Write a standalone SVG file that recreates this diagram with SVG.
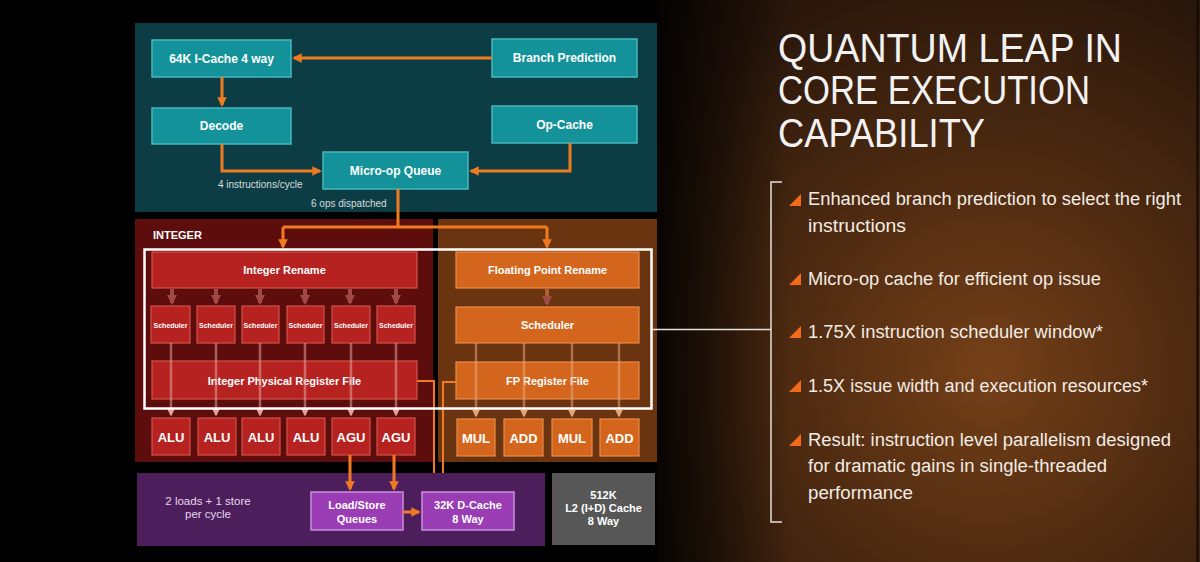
<svg xmlns="http://www.w3.org/2000/svg" width="1200" height="562" viewBox="0 0 1200 562">
<defs>
<radialGradient id="glow" gradientUnits="userSpaceOnUse" cx="990" cy="370" r="620">
<stop offset="0" stop-color="#754018"/>
<stop offset="0.3" stop-color="#512c11"/>
<stop offset="0.65" stop-color="#2a170b"/>
<stop offset="1" stop-color="#0e0805"/>
</radialGradient>
<linearGradient id="fade" gradientUnits="userSpaceOnUse" x1="655" y1="0" x2="790" y2="0">
<stop offset="0" stop-color="#000" stop-opacity="0.85"/>
<stop offset="1" stop-color="#000" stop-opacity="0"/>
</linearGradient>
<marker id="ah" viewBox="0 0 10 10" refX="8" refY="5" markerWidth="3.2" markerHeight="3.2" orient="auto" markerUnits="strokeWidth">
<path d="M0,0 L10,5 L0,10 z" fill="#f07a22"/>
</marker>
<marker id="ahg" viewBox="0 0 10 10" refX="8" refY="5" markerWidth="2.6" markerHeight="2.6" orient="auto" markerUnits="strokeWidth">
<path d="M0,0 L10,5 L0,10 z" fill="#a04a48"/>
</marker>
<marker id="ahl" viewBox="0 0 10 10" refX="8" refY="5" markerWidth="3" markerHeight="3" orient="auto" markerUnits="strokeWidth">
<path d="M0,0 L10,5 L0,10 z" fill="#e3a09c"/>
</marker>
<marker id="ahf" viewBox="0 0 10 10" refX="8" refY="5" markerWidth="3" markerHeight="3" orient="auto" markerUnits="strokeWidth">
<path d="M0,0 L10,5 L0,10 z" fill="#e6a57a"/>
</marker>
<style>
.lbl{font-family:"Liberation Sans",Arial,sans-serif;font-weight:bold;fill:#ffffff;text-anchor:middle;dominant-baseline:central}
.t12{font-size:12px}
.t11{font-size:11px}
.t13{font-size:13px}
.t7{font-size:7px}
.note{font-family:"Liberation Sans",Arial,sans-serif;font-size:10px;fill:#d6dede}
.teal{fill:#13929a;stroke:#46b7bd;stroke-width:1.5}
.red{fill:#b62220;stroke:#d4524c;stroke-width:1.2}
.fp{fill:#d3661c;stroke:#eb8b4a;stroke-width:1.2}
.pur{fill:#9a3cb3;stroke:#cb8ddb;stroke-width:1.5}
.oc{fill:none;stroke:#f07a22;stroke-width:3}
.oct{fill:none;stroke:#f07a22;stroke-width:2}
.gc{fill:none;stroke:#a04a48;stroke-width:4}
.lc{fill:none;stroke:#e3a09c;stroke-opacity:0.55;stroke-width:2.5}
.fc{fill:none;stroke:#e6a57a;stroke-opacity:0.55;stroke-width:2.5}
.title{font-family:"Liberation Sans",Arial,sans-serif;font-size:40px;fill:#f2f2f2}
.bul{font-family:"Liberation Sans",Arial,sans-serif;font-size:18px;fill:#f2ece6}
.tri{fill:#f26a1b}
</style>
</defs>

<!-- background -->
<rect x="0" y="0" width="1200" height="562" fill="url(#glow)"/>
<rect x="655" y="0" width="140" height="562" fill="url(#fade)"/>
<rect x="0" y="0" width="657" height="562" fill="#000"/>
<line x1="1197.5" y1="0" x2="1197.5" y2="562" stroke="#120a05" stroke-width="2"/>

<!-- panels -->
<g id="frontend-panel"><rect x="135" y="23" width="522" height="189" fill="#0d3d44"/></g>
<g id="integer-panel">
<rect x="135" y="219" width="298" height="243" fill="#5c0d0c"/>
<text x="153" y="235" class="lbl t11" style="text-anchor:start">INTEGER</text>
</g>
<g id="fp-panel"><rect x="438" y="219" width="219" height="243" fill="#6a3410"/></g>
<g id="ls-panel">
<rect x="137" y="473" width="408" height="73" fill="#4c1f5c"/>
<text x="208" y="501" class="note" style="font-size:11.5px;fill:#e6d6ec;text-anchor:middle;dominant-baseline:central">2 loads + 1 store</text>
<text x="208" y="514" class="note" style="font-size:11.5px;fill:#e6d6ec;text-anchor:middle;dominant-baseline:central">per cycle</text>
</g>

<!-- front-end nodes -->
<g id="icache"><rect x="152" y="40" width="139" height="37" class="teal"/><text x="221.5" y="58.5" class="lbl t12">64K I-Cache 4 way</text></g>
<g id="branch"><rect x="492" y="39" width="145" height="38" class="teal"/><text x="564.5" y="58" class="lbl t12">Branch Prediction</text></g>
<g id="decode"><rect x="152" y="108" width="139" height="36" class="teal"/><text x="221.5" y="126" class="lbl t12">Decode</text></g>
<g id="opcache"><rect x="492" y="106" width="145" height="37" class="teal"/><text x="564.5" y="124.5" class="lbl t12">Op-Cache</text></g>
<g id="uopq"><rect x="323" y="152" width="145" height="37" class="teal"/><text x="395.5" y="171" class="lbl t12">Micro-op Queue</text></g>

<!-- integer nodes -->
<g id="int-rename"><rect x="152" y="252" width="265" height="36" class="red"/><text x="284.5" y="270" class="lbl t11">Integer Rename</text></g>
<g id="sched1"><rect x="151" y="306" width="39" height="37" class="red"/><text x="170.5" y="325" class="lbl t7">Scheduler</text></g>
<g id="sched2"><rect x="197" y="306" width="38" height="37" class="red"/><text x="216" y="325" class="lbl t7">Scheduler</text></g>
<g id="sched3"><rect x="242" y="306" width="37" height="37" class="red"/><text x="260.5" y="325" class="lbl t7">Scheduler</text></g>
<g id="sched4"><rect x="287" y="306" width="37" height="37" class="red"/><text x="305.5" y="325" class="lbl t7">Scheduler</text></g>
<g id="sched5"><rect x="332" y="306" width="38" height="37" class="red"/><text x="351" y="325" class="lbl t7">Scheduler</text></g>
<g id="sched6"><rect x="377" y="306" width="38" height="37" class="red"/><text x="396" y="325" class="lbl t7">Scheduler</text></g>
<g id="int-prf"><rect x="152" y="361" width="265" height="38" class="red"/><text x="284.5" y="380.5" class="lbl t11">Integer Physical Register File</text></g>
<g id="alu1"><rect x="152" y="418" width="38" height="37" class="red"/><text x="171" y="437" class="lbl t13">ALU</text></g>
<g id="alu2"><rect x="198" y="418" width="38" height="37" class="red"/><text x="217" y="437" class="lbl t13">ALU</text></g>
<g id="alu3"><rect x="242" y="418" width="38" height="37" class="red"/><text x="261" y="437" class="lbl t13">ALU</text></g>
<g id="alu4"><rect x="287" y="418" width="38" height="37" class="red"/><text x="306" y="437" class="lbl t13">ALU</text></g>
<g id="agu1"><rect x="332" y="418" width="38" height="37" class="red"/><text x="351" y="437" class="lbl t13">AGU</text></g>
<g id="agu2"><rect x="377" y="418" width="38" height="37" class="red"/><text x="396" y="437" class="lbl t13">AGU</text></g>

<!-- fp nodes -->
<g id="fp-rename"><rect x="456" y="252" width="183" height="36" class="fp"/><text x="547.5" y="270" class="lbl t11">Floating Point Rename</text></g>
<g id="fp-sched"><rect x="456" y="307" width="183" height="36" class="fp"/><text x="547.5" y="325" class="lbl t11">Scheduler</text></g>
<g id="fp-rf"><rect x="456" y="362" width="183" height="37" class="fp"/><text x="547.5" y="380.5" class="lbl t11">FP Register File</text></g>
<g id="mul1"><rect x="457" y="419" width="38" height="37" class="fp"/><text x="476" y="438" class="lbl t13">MUL</text></g>
<g id="add1"><rect x="504" y="419" width="39" height="37" class="fp"/><text x="523.5" y="438" class="lbl t13">ADD</text></g>
<g id="mul2"><rect x="552" y="419" width="40" height="37" class="fp"/><text x="572" y="438" class="lbl t13">MUL</text></g>
<g id="add2"><rect x="600" y="419" width="39" height="37" class="fp"/><text x="619.5" y="438" class="lbl t13">ADD</text></g>

<!-- load/store nodes -->
<g id="lsq"><rect x="311" y="492" width="92" height="38" class="pur"/><text x="357" y="505" class="lbl t11">Load/Store</text><text x="357" y="519" class="lbl t11">Queues</text></g>
<g id="dcache"><rect x="422" y="492" width="92" height="38" class="pur"/><text x="468" y="505" class="lbl t11">32K D-Cache</text><text x="468" y="519" class="lbl t11">8 Way</text></g>
<g id="l2"><rect x="552" y="473" width="103" height="72" fill="#575757"/><text x="603.5" y="495" class="lbl t11">512K</text><text x="603.5" y="508" class="lbl t11">L2 (I+D) Cache</text><text x="603.5" y="521" class="lbl t11">8 Way</text></g>

<!-- connectors -->
<g id="connectors">
<line x1="492" y1="58" x2="294" y2="58" class="oc" marker-end="url(#ah)"/>
<line x1="222" y1="77" x2="222" y2="105" class="oc" marker-end="url(#ah)"/>
<polyline points="222,144 222,171 320,171" class="oc" marker-end="url(#ah)"/>
<polyline points="570,143 570,171 471,171" class="oc" marker-end="url(#ah)"/>
<polyline points="398,189 398,227" class="oc"/>
<polyline points="283,227 547,227" class="oc"/>
<line x1="283" y1="227" x2="283" y2="247" class="oc" marker-end="url(#ah)"/>
<line x1="547" y1="227" x2="547" y2="247" class="oc" marker-end="url(#ah)"/>
<text x="218" y="184" class="note" style="dominant-baseline:central">4 instructions/cycle</text>
<text x="311" y="203" class="note" style="dominant-baseline:central">6 ops dispatched</text>

<line x1="172" y1="289" x2="172" y2="303" class="gc" marker-end="url(#ahg)"/>
<line x1="216" y1="289" x2="216" y2="303" class="gc" marker-end="url(#ahg)"/>
<line x1="260" y1="289" x2="260" y2="303" class="gc" marker-end="url(#ahg)"/>
<line x1="305" y1="289" x2="305" y2="303" class="gc" marker-end="url(#ahg)"/>
<line x1="350" y1="289" x2="350" y2="303" class="gc" marker-end="url(#ahg)"/>
<line x1="396" y1="289" x2="396" y2="303" class="gc" marker-end="url(#ahg)"/>
<line x1="547" y1="289" x2="547" y2="304" class="gc" style="stroke:#b0602e" marker-end="url(#ahg)"/>

<line x1="171" y1="343" x2="171" y2="415" class="lc" marker-end="url(#ahl)"/>
<line x1="216" y1="343" x2="216" y2="415" class="lc" marker-end="url(#ahl)"/>
<line x1="260" y1="343" x2="260" y2="415" class="lc" marker-end="url(#ahl)"/>
<line x1="305" y1="343" x2="305" y2="415" class="lc" marker-end="url(#ahl)"/>
<line x1="351" y1="343" x2="351" y2="415" class="lc" marker-end="url(#ahl)"/>
<line x1="396" y1="343" x2="396" y2="415" class="lc" marker-end="url(#ahl)"/>
<line x1="476" y1="343" x2="476" y2="416" class="fc" marker-end="url(#ahf)"/>
<line x1="524" y1="343" x2="524" y2="416" class="fc" marker-end="url(#ahf)"/>
<line x1="572" y1="343" x2="572" y2="416" class="fc" marker-end="url(#ahf)"/>
<line x1="619" y1="343" x2="619" y2="416" class="fc" marker-end="url(#ahf)"/>

<polyline points="417,381 434,381 434,473" class="oct"/>
<polyline points="456,382 443,382 443,473" class="oct"/>
<line x1="350" y1="455" x2="350" y2="489" class="oc" marker-end="url(#ah)"/>
<line x1="394" y1="455" x2="394" y2="489" class="oc" marker-end="url(#ah)"/>
<line x1="403" y1="512" x2="419" y2="512" class="oc" marker-end="url(#ah)"/>

<rect x="144.5" y="249.5" width="507" height="159" fill="none" stroke="#ffffff" stroke-width="2.5"/>
<line x1="652" y1="329.5" x2="771" y2="329.5" stroke="#e8e0da" stroke-width="1.5"/>
<polyline points="782,182 771,182 771,522 782,522" fill="none" stroke="#e8e0da" stroke-width="1.5"/>
</g>

<!-- title -->
<g id="title">
<text x="778" y="62" class="title" textLength="344" lengthAdjust="spacingAndGlyphs">QUANTUM LEAP IN</text>
<text x="778" y="104" class="title" textLength="312" lengthAdjust="spacingAndGlyphs">CORE EXECUTION</text>
<text x="778" y="147" class="title" textLength="207" lengthAdjust="spacingAndGlyphs">CAPABILITY</text>
</g>

<!-- bullets -->
<g id="bullets">
<polygon points="789,206 801,206 801,194" class="tri"/>
<text x="808" y="205" class="bul" textLength="373" lengthAdjust="spacingAndGlyphs">Enhanced branch prediction to select the right</text>
<text x="808" y="232" class="bul" textLength="98" lengthAdjust="spacingAndGlyphs">instructions</text>
<polygon points="789,285 801,285 801,273" class="tri"/>
<text x="808" y="285" class="bul" textLength="293" lengthAdjust="spacingAndGlyphs">Micro-op cache for efficient op issue</text>
<polygon points="789,338 801,338 801,326" class="tri"/>
<text x="808" y="338" class="bul" textLength="295" lengthAdjust="spacingAndGlyphs">1.75X instruction scheduler window*</text>
<polygon points="789,392 801,392 801,380" class="tri"/>
<text x="808" y="392" class="bul" textLength="340" lengthAdjust="spacingAndGlyphs">1.5X issue width and execution resources*</text>
<polygon points="789,446 801,446 801,434" class="tri"/>
<text x="808" y="446" class="bul" textLength="363" lengthAdjust="spacingAndGlyphs">Result: instruction level parallelism designed</text>
<text x="808" y="472" class="bul" textLength="299" lengthAdjust="spacingAndGlyphs">for dramatic gains in single-threaded</text>
<text x="808" y="499" class="bul" textLength="105" lengthAdjust="spacingAndGlyphs">performance</text>
</g>
</svg>
